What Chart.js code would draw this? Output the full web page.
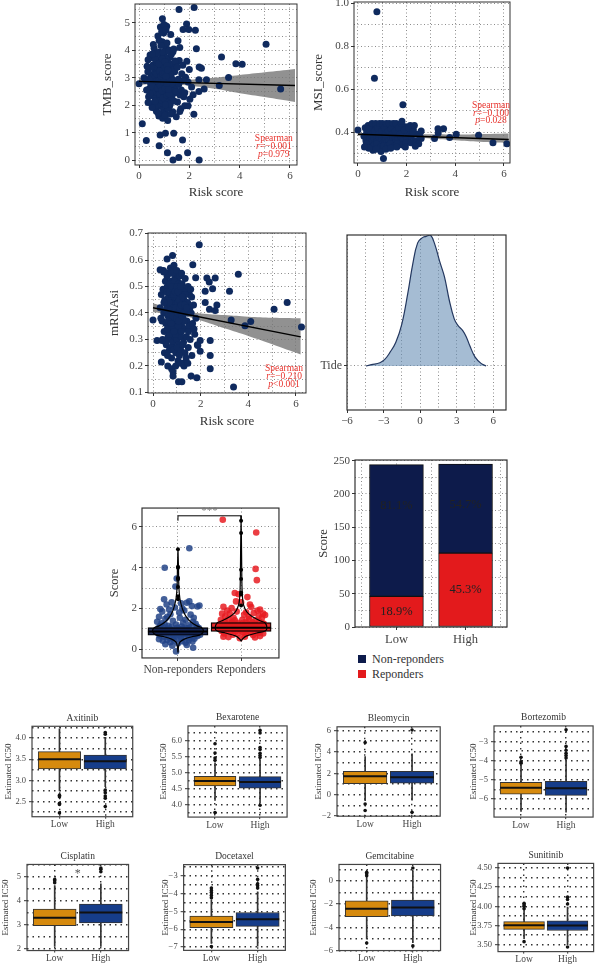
<!DOCTYPE html>
<html>
<head>
<meta charset="utf-8">
<script src="https://cdn.jsdelivr.net/npm/chart.js@4.4.1/dist/chart.umd.min.js"></script>
<style>
  html, body { margin: 0; padding: 0; background: #fff; }
  body { position: relative; width: 616px; height: 974px; overflow: hidden; font-family: 'Liberation Serif', 'DejaVu Serif', serif; }
  canvas { position: absolute; }
  .legend { position: absolute; left: 358px; top: 652px; font-size: 12px; color: #333; line-height: 15px; }
  .legend .sw { display: inline-block; width: 8px; height: 8px; margin-right: 6px; }
</style>
</head>
<body>
<div class="legend">
  <div><span class="sw" style="background:#0d1b4b"></span>Non-reponders</div>
  <div><span class="sw" style="background:#e31a1c"></span>Reponders</div>
</div>
<script>
// ---- risk score vs TMB ----
const tmbPoints = [
  [0.42,2.61],[0.47,3.12],[0.51,2.05],[0.53,2.88],[0.56,3.47],[0.58,2.34],[0.61,1.92],[0.62,2.72],[0.64,3.21],[0.66,3.86],
  [0.67,2.48],[0.69,1.78],[0.71,2.95],[0.72,3.58],[0.73,2.17],[0.75,4.52],[0.76,2.63],[0.77,3.33],[0.79,1.61],[0.8,2.83],
  [0.81,3.94],[0.82,2.29],[0.83,3.12],[0.85,4.85],[0.86,2.51],[0.87,1.95],[0.88,3.71],[0.89,2.76],[0.9,3.27],[0.91,2.08],
  [0.92,4.31],[0.93,2.92],[0.94,1.52],[0.95,3.48],[0.96,2.41],[0.97,3.02],[0.98,4.63],[0.99,2.66],[1.0,1.85],[1.01,3.81],
  [1.02,2.23],[1.03,3.16],[1.04,2.87],[1.05,4.12],[1.06,2.55],[1.07,1.68],[1.08,3.39],[1.09,2.97],[1.1,4.88],[1.11,2.31],
  [1.12,3.62],[1.13,2.74],[1.14,1.44],[1.15,3.09],[1.16,2.46],[1.17,4.02],[1.18,2.18],[1.19,3.31],[1.2,2.81],[1.22,1.98],
  [1.23,3.75],[1.25,2.59],[1.26,4.58],[1.28,3.04],[1.3,2.27],[1.32,3.48],[1.34,1.76],[1.36,2.91],[1.38,4.05],[1.4,2.44],
  [1.42,3.22],[1.45,2.68],[1.48,1.58],[1.5,3.56],[1.53,2.12],[1.56,2.95],[1.6,3.63],[1.63,2.37],[1.66,1.87],[1.7,3.15],
  [0.5,3.74],[0.55,2.52],[0.6,4.08],[0.63,2.98],[0.68,3.41],[0.72,2.02],[0.74,3.89],[0.78,2.61],[0.8,4.36],[0.84,3.05],
  [0.86,2.19],[0.9,4.68],[0.92,1.71],[0.95,2.58],[0.97,3.93],[1.0,3.37],[1.02,2.44],[1.04,1.63],[1.06,3.71],[1.08,2.12],
  [1.11,4.27],[1.13,3.18],[1.16,1.89],[1.19,2.65],[1.21,3.52],[1.24,2.05],[1.27,2.98],[1.29,3.87],[1.33,2.53],[1.37,3.28],
  [0.38,2.31],[0.44,3.83],[0.46,2.79],[0.52,1.92],[0.57,4.21],[0.59,3.36],[0.63,2.14],[0.65,3.67],[0.7,2.88],[0.76,1.72],
  [0.79,3.51],[0.83,2.41],[0.87,4.18],[0.89,2.96],[0.93,3.69],[0.96,2.27],[0.99,4.94],[1.01,2.71],[1.03,3.58],[1.05,2.02],
  [1.07,4.74],[1.09,2.38],[1.12,3.44],[1.15,2.86],[1.18,3.98],[1.2,2.42],[1.23,3.13],[1.26,1.68],[1.31,2.78],[1.35,3.95],
  [1.39,2.15],[1.43,3.61],[1.47,2.49],[1.52,3.38],[1.58,2.76],[1.62,4.1],[1.68,2.55],[1.74,3.46],[1.78,2.31],[1.85,3.02],
  [0.35,3.22],[0.4,2.95],[0.43,2.42],[0.48,3.38],[0.54,2.68],[0.69,3.15],[0.73,2.63],[0.77,2.87],[0.81,3.25],[0.85,2.71],
  [0.88,3.06],[0.91,2.53],[0.94,3.14],[0.98,2.84],[1.01,3.12],[1.04,2.62],[1.07,3.06],[1.1,2.79],[1.14,3.28],[1.17,2.57],
  [0.25,2.9],[0.3,2.55],[0.32,3.42],[0.36,2.1],[1.9,3.6],[1.95,2.85],[2.0,3.3],[1.75,2.9],[1.82,2.45],[1.55,4.35],
  [1.59,5.49],[2.19,5.56],[0.93,5.15],[1.89,4.96],[1.75,4.76],[1.98,4.76],[2.24,4.73],[5.05,4.22],[2.28,4.06],[3.28,3.76],
  [3.85,3.51],[4.1,3.49],[2.39,3.39],[2.48,3.35],[3.56,3.01],[2.38,2.93],[2.68,2.93],[3.19,2.72],[5.63,2.59],[2.09,2.66],
  [2.59,2.59],[2.38,2.5],[2.15,2.38],[2.02,2.22],[1.82,1.98],[1.95,1.98],[2.18,1.67],[1.62,1.77],[0.13,1.32],[0.29,0.71],
  [0.8,0.52],[0.84,0.91],[1.05,0.98],[1.38,0.98],[1.73,0.73],[1.13,0.27],[1.35,0.0],[1.58,0.09],[1.93,0.27],[2.39,0.0],
  [0.0,2.78],[0.2,3.0],[0.36,3.66],[0.53,3.87]
];
const tmbFit = [[0, 2.87], [6.2, 2.72]];
const tmbBandX = [0, 1, 2, 3, 4, 5, 6.2];
const tmbBandHi = [3.0, 2.92, 2.93, 3.0, 3.1, 3.2, 3.32];
const tmbBandLo = [2.74, 2.78, 2.71, 2.6, 2.44, 2.3, 2.12];

// ---- risk score vs MSI ----
const msiPoints = [
  [0.25,0.38],[0.3,0.42],[0.33,0.36],[0.36,0.4],[0.4,0.35],[0.42,0.43],[0.45,0.39],[0.48,0.37],[0.5,0.41],[0.52,0.345],
  [0.55,0.425],[0.57,0.38],[0.6,0.36],[0.62,0.4],[0.65,0.435],[0.67,0.37],[0.7,0.39],[0.72,0.35],[0.74,0.415],[0.76,0.38],
  [0.78,0.43],[0.8,0.36],[0.82,0.4],[0.84,0.34],[0.86,0.42],[0.88,0.375],[0.9,0.395],[0.92,0.355],[0.94,0.435],[0.96,0.385],
  [0.98,0.365],[1.0,0.41],[1.02,0.345],[1.04,0.425],[1.06,0.38],[1.08,0.4],[1.1,0.36],[1.12,0.43],[1.14,0.37],[1.16,0.39],
  [1.18,0.35],[1.2,0.415],[1.22,0.38],[1.24,0.43],[1.26,0.36],[1.28,0.4],[1.3,0.34],[1.32,0.42],[1.34,0.375],[1.36,0.395],
  [1.38,0.355],[1.4,0.435],[1.42,0.385],[1.44,0.365],[1.46,0.41],[1.48,0.345],[1.5,0.425],[1.52,0.38],[1.55,0.4],[1.58,0.36],
  [1.6,0.43],[1.63,0.37],[1.66,0.39],[1.7,0.35],[1.73,0.415],[1.76,0.38],[1.8,0.42],[1.84,0.36],[1.88,0.4],[1.92,0.34],
  [1.96,0.425],[2.0,0.37],[2.05,0.395],[2.1,0.355],[2.15,0.43],[2.2,0.38],[2.28,0.41],[2.35,0.36],[2.45,0.39],[2.6,0.37],
  [0.35,0.345],[0.44,0.415],[0.53,0.39],[0.58,0.44],[0.63,0.335],[0.68,0.405],[0.73,0.44],[0.77,0.345],[0.81,0.42],[0.85,0.39],
  [0.89,0.44],[0.93,0.33],[0.97,0.405],[1.01,0.44],[1.05,0.335],[1.09,0.42],[1.13,0.39],[1.17,0.44],[1.21,0.335],[1.25,0.405],
  [1.29,0.44],[1.33,0.345],[1.37,0.415],[1.41,0.39],[1.45,0.44],[1.49,0.335],[1.53,0.405],[1.57,0.44],[1.62,0.345],[1.67,0.42],
  [1.72,0.39],[1.78,0.44],[1.83,0.34],[1.9,0.41],[1.98,0.35],[2.08,0.42],[2.18,0.35],[2.25,0.4],[2.32,0.43],[2.4,0.35],
  [0.62,0.315],[0.95,0.31],[1.15,0.32],[0.75,0.32],[1.35,0.325],[0.45,0.325],[1.6,0.33],[1.95,0.33],[2.5,0.345],[2.55,0.38],
  [0.78,0.96],[0.68,0.65],[1.85,0.527],[1.81,0.45],[0.0,0.41],[3.29,0.415],[3.52,0.415],[3.15,0.37],[3.77,0.375],[4.04,0.39],
  [4.96,0.385],[5.55,0.35],[6.12,0.345],[1.05,0.277],[2.6,0.405],[2.36,0.334],[0.27,0.33],[3.3,0.395]
];
const msiFit = [[0, 0.39], [6.2, 0.365]];
const msiBandX = [0, 1, 2, 3, 4, 5, 6.2];
const msiBandHi = [0.397, 0.391, 0.39, 0.39, 0.389, 0.39, 0.393];
const msiBandLo = [0.383, 0.385, 0.378, 0.37, 0.362, 0.355, 0.349];

// ---- risk score vs mRNAsi ----
const mrnaPoints = [
  [0.3,0.42],[0.35,0.47],[0.38,0.37],[0.42,0.49],[0.45,0.4],[0.47,0.33],[0.5,0.45],[0.52,0.52],[0.54,0.36],[0.56,0.28],
  [0.58,0.43],[0.6,0.5],[0.62,0.39],[0.63,0.31],[0.65,0.46],[0.66,0.55],[0.68,0.35],[0.69,0.26],[0.7,0.42],[0.71,0.49],
  [0.72,0.38],[0.73,0.57],[0.74,0.3],[0.75,0.45],[0.76,0.52],[0.77,0.34],[0.78,0.23],[0.79,0.41],[0.8,0.48],[0.81,0.37],
  [0.82,0.56],[0.83,0.29],[0.84,0.44],[0.85,0.51],[0.86,0.33],[0.87,0.4],[0.88,0.58],[0.89,0.27],[0.9,0.46],[0.91,0.36],
  [0.92,0.53],[0.93,0.31],[0.94,0.43],[0.95,0.49],[0.96,0.25],[0.97,0.39],[0.98,0.55],[0.99,0.34],[1.0,0.47],[1.01,0.3],
  [1.02,0.42],[1.03,0.52],[1.04,0.37],[1.05,0.22],[1.06,0.45],[1.07,0.33],[1.08,0.5],[1.09,0.28],[1.1,0.41],[1.12,0.54],
  [1.13,0.36],[1.14,0.46],[1.16,0.26],[1.17,0.4],[1.18,0.31],[1.2,0.48],[1.21,0.35],[1.23,0.43],[1.24,0.21],[1.26,0.38],
  [1.28,0.29],[1.3,0.45],[1.32,0.34],[1.34,0.25],[1.36,0.41],[1.38,0.49],[1.4,0.31],[1.42,0.37],[1.45,0.44],[1.48,0.27],
  [1.5,0.35],[1.53,0.47],[1.56,0.3],[1.6,0.4],[1.63,0.24],[1.66,0.36],[1.7,0.43],[1.75,0.32],[1.8,0.38],[1.86,0.28],
  [0.4,0.3],[0.44,0.56],[0.48,0.25],[0.55,0.41],[0.59,0.54],[0.61,0.24],[0.64,0.37],[0.67,0.44],[0.7,0.32],[0.72,0.51],
  [0.75,0.27],[0.77,0.47],[0.8,0.55],[0.82,0.35],[0.85,0.42],[0.87,0.26],[0.9,0.52],[0.92,0.38],[0.95,0.32],[0.97,0.46],
  [1.0,0.56],[1.02,0.27],[1.04,0.44],[1.06,0.35],[1.09,0.51],[1.11,0.24],[1.14,0.39],[1.17,0.47],[1.19,0.33],[1.22,0.51],
  [1.25,0.28],[1.27,0.43],[1.31,0.37],[1.35,0.47],[1.39,0.23],[1.44,0.4],[1.49,0.33],[1.55,0.42],[1.62,0.46],[1.72,0.34],
  [0.33,0.38],[0.46,0.44],[0.53,0.29],[0.57,0.48],[0.6,0.34],[0.66,0.4],[0.69,0.48],[0.73,0.41],[0.76,0.36],[0.79,0.5],
  [0.83,0.39],[0.86,0.47],[0.88,0.33],[0.91,0.41],[0.93,0.48],[0.96,0.42],[0.99,0.38],[1.01,0.5],[1.03,0.4],[1.05,0.48],
  [1.08,0.37],[1.1,0.45],[1.13,0.42],[1.15,0.5],[1.18,0.43],[1.21,0.39],[1.24,0.46],[1.29,0.4],[1.33,0.43],[1.41,0.42],
  [0.62,0.2],[0.78,0.19],[0.95,0.2],[1.15,0.21],[1.3,0.2],[1.46,0.21],[1.2,0.55],[1.35,0.53],[1.47,0.5],[1.58,0.49],
  [1.94,0.658],[0.82,0.617],[0.59,0.604],[1.67,0.582],[3.58,0.546],[1.79,0.533],[2.26,0.532],[2.61,0.532],[2.36,0.517],[2.5,0.492],
  [3.21,0.482],[2.19,0.482],[5.63,0.44],[2.19,0.44],[2.68,0.43],[5.08,0.414],[2.37,0.414],[2.61,0.409],[0.0,0.374],[3.28,0.374],
  [4.1,0.368],[3.86,0.352],[6.23,0.347],[0.17,0.296],[0.38,0.296],[1.98,0.296],[2.4,0.296],[0.35,0.215],[2.4,0.24],[2.4,0.19],
  [0.84,0.178],[0.84,0.162],[1.07,0.14],[1.21,0.14],[1.6,0.162],[1.84,0.156],[3.38,0.121],[1.88,0.277],[1.98,0.256],[0.3,0.563],
  [0.45,0.555]
];
const mrnaFit = [[0, 0.42], [6.2, 0.31]];
const mrnaBandX = [0, 1, 2, 3, 4, 5, 6.2];
const mrnaBandHi = [0.437, 0.41, 0.398, 0.392, 0.386, 0.382, 0.38];
const mrnaBandLo = [0.403, 0.394, 0.372, 0.342, 0.313, 0.282, 0.243];

// ---- Tide score density ----
const tideX = [-4.45, -4.0, -3.3, -2.9, -2.5, -2.0, -1.5, -1.0, -0.6, -0.2, 0.2, 0.5, 0.85, 1.2, 1.6, 2.0, 2.4, 2.8, 3.1, 3.5, 3.8, 4.1, 4.5, 5.0, 5.42];
const tideDensity = [0, 0.01, 0.025, 0.05, 0.1, 0.18, 0.32, 0.56, 0.78, 0.94, 0.98, 0.99, 1.0, 0.93, 0.8, 0.68, 0.5, 0.36, 0.31, 0.27, 0.22, 0.15, 0.07, 0.02, 0];

// ---- score by response group ----
const respGroups = ['Non-reponders', 'Reponders'];
const jitterNR = [
  [0.79,4.0],[1.18,4.95],[0.98,3.47],[0.96,3.08],[0.78,2.45],[0.86,1.95],[0.72,1.98],[1.22,2.12],[1.31,2.1],[0.9,2.3],
  [1.05,2.25],[1.14,2.28],[0.82,2.2],[0.95,2.05],[1.1,1.9],[0.7,1.6],[0.88,1.72],[1.02,1.8],[1.2,1.7],[1.28,1.25],
  [0.67,1.35],[0.74,1.28],[0.8,1.5],[0.85,1.15],[0.92,1.4],[0.97,1.22],[1.03,1.55],[1.08,1.3],[1.12,1.45],[1.17,1.18],
  [1.24,1.35],[1.3,1.12],[0.69,1.05],[0.73,0.95],[0.77,1.08],[0.81,0.88],[0.84,1.02],[0.87,0.78],[0.9,0.95],[0.93,0.7],
  [0.96,0.9],[0.99,1.06],[1.01,0.82],[1.04,0.98],[1.07,0.75],[1.1,0.92],[1.13,1.04],[1.16,0.8],[1.19,0.96],[1.22,0.72],
  [1.25,0.88],[1.29,1.0],[1.32,0.82],[0.68,0.8],[0.71,0.68],[0.75,0.85],[0.78,0.62],[0.82,0.75],[0.86,0.58],[0.89,0.84],
  [0.92,0.55],[0.95,0.72],[0.98,0.6],[1.02,0.68],[1.05,0.52],[1.08,0.86],[1.11,0.62],[1.15,0.7],[1.18,0.55],[1.21,0.84],
  [1.24,0.6],[1.27,0.74],[1.31,0.65],[0.7,0.5],[0.76,0.42],[0.83,0.46],[0.88,0.35],[0.94,0.44],[1.0,0.3],[1.06,0.4],
  [1.12,0.33],[1.17,0.45],[1.23,0.38],[1.26,0.52],[0.97,-0.1],[1.24,0.08],[0.8,0.25],[0.91,0.18],[1.14,0.22],[1.34,0.9],
  [0.66,0.95],[0.72,1.15],[0.79,1.22],[0.84,0.98],[0.9,1.1],[0.94,0.86],[1.0,0.95],[1.06,1.12],[1.09,1.0],[1.15,0.93],
  [1.2,1.08],[1.27,0.95],[1.33,1.05],[0.74,0.78],[0.8,0.92],[0.87,1.0],[0.93,0.8],[0.99,0.76],[1.04,0.88],[1.1,0.78],
  [1.16,0.9],[1.22,0.78],[1.29,0.86],[1.35,0.72],[1.34,2.15],[1.25,1.55],[0.75,1.85],[1.18,2.35],[0.83,1.6],[1.07,2.0]
];
const jitterR = [
  [1.71,6.35],[2.24,5.72],[2.23,3.94],[2.25,3.39],[1.9,2.76],[1.96,2.7],[2.1,2.56],[1.72,2.08],[2.16,2.07],[2.0,2.3],
  [1.75,1.62],[1.82,1.75],[1.88,1.55],[1.93,1.85],[2.05,1.7],[2.12,1.6],[2.2,1.78],[2.28,1.65],[2.33,1.55],[1.68,1.45],
  [1.74,1.38],[1.8,1.48],[1.85,1.32],[1.9,1.42],[1.95,1.3],[2.02,1.45],[2.07,1.35],[2.13,1.48],[2.18,1.32],[2.23,1.42],
  [2.29,1.36],[2.34,1.28],[1.66,1.2],[1.7,1.1],[1.76,1.25],[1.8,1.05],[1.84,1.18],[1.88,0.98],[1.92,1.12],[1.96,1.22],
  [2.0,1.0],[2.04,1.15],[2.08,0.95],[2.12,1.08],[2.16,1.2],[2.2,1.02],[2.24,1.14],[2.28,0.96],[2.32,1.1],[2.36,1.25],
  [1.69,0.9],[1.73,0.78],[1.78,0.92],[1.83,0.85],[1.87,0.72],[1.91,0.88],[1.95,0.8],[1.99,0.92],[2.03,0.84],[2.07,0.75],
  [2.11,0.9],[2.15,0.82],[2.19,0.7],[2.23,0.88],[2.27,0.8],[2.31,0.9],[2.35,0.78],[1.72,0.62],[1.8,0.6],[2.22,0.58],
  [2.3,0.65],[1.98,0.55],[2.06,0.62],[1.86,1.3],[1.94,1.05],[2.02,1.25],[2.1,1.15],[2.18,0.98],[2.26,1.05],[1.77,1.0],
  [1.83,1.12],[1.89,1.22],[2.09,1.28],[2.14,1.02],[2.21,1.25],[2.33,1.15],[1.67,1.05],[1.75,1.15],[1.97,1.15],[2.01,0.98],
  [1.85,2.02],[2.3,1.95],[2.35,1.75],[2.26,1.9],[1.78,1.9],[2.14,2.2],[1.92,2.35],[2.08,1.82],[1.7,1.75],[2.38,1.68]
];
// box stats [Q1, median, Q3] and boxplot outliers
const respBoxNR = [0.69, 0.87, 1.07];
const respBoxR = [0.88, 1.06, 1.31];
const respOutNR = [2.45, 2.6, 3.05, 3.45, 3.5, 4.0, 4.05, 4.9];
const respOutR = [2.15, 2.7, 2.78, 3.45, 3.9, 5.7, 6.3];
// violin half widths at score levels
const violinY_NR = [-0.15, 0.15, 0.35, 0.5, 0.62, 0.7, 0.85, 1.05, 1.15, 1.35, 1.6, 1.9, 2.2, 2.5, 3.0, 4.0, 4.95];
const violinW_NR = [0, 0.01, 0.03, 0.1, 0.22, 0.34, 0.4, 0.38, 0.3, 0.2, 0.13, 0.08, 0.05, 0.03, 0.015, 0.008, 0];
const violinY_R = [0.4, 0.5, 0.65, 0.8, 0.9, 1.05, 1.3, 1.4, 1.6, 1.8, 2.0, 2.3, 3.0, 4.0, 5.5, 6.35];
const violinW_R = [0, 0.02, 0.08, 0.25, 0.38, 0.41, 0.38, 0.3, 0.18, 0.1, 0.06, 0.03, 0.015, 0.01, 0.005, 0];
const sigBracket = [[1, 6.3], [1, 6.54], [2, 6.54], [2, 6.3]];

// ---- responders per risk group ----
const riskGroups = ['Low', 'High'];
const responders = [46, 111];
const nonResponders = [198, 134];

// ---- estimated IC50 by risk group ----
const icDrugs = ['Axitinib', 'Bexarotene', 'Bleomycin', 'Bortezomib', 'Cisplatin', 'Docetaxel', 'Gemcitabine', 'Sunitinib'];
// [lower whisker, Q1, median, Q3, upper whisker]
const icLow = [
  [2.75, 3.27, 3.5, 3.68, 4.22],
  [4.12, 4.58, 4.73, 4.88, 5.3],
  [-0.55, 1.03, 1.72, 2.19, 3.55],
  [-6.65, -5.75, -5.42, -5.14, -4.25],
  [2.1, 2.96, 3.29, 3.65, 4.62],
  [-6.8, -5.92, -5.6, -5.26, -4.35],
  [-5.0, -3.09, -2.4, -1.73, 0.3],
  [3.58, 3.7, 3.754, 3.8, 3.95]
];
const icHigh = [
  [2.85, 3.27, 3.45, 3.6, 4.02],
  [4.05, 4.51, 4.7, 4.87, 5.4],
  [-0.5, 1.08, 1.64, 2.19, 3.8],
  [-6.7, -5.82, -5.45, -5.08, -4.0],
  [2.1, 3.08, 3.51, 3.86, 4.7],
  [-6.95, -5.84, -5.44, -5.06, -3.9],
  [-5.3, -3.01, -2.3, -1.65, 0.85],
  [3.5, 3.685, 3.75, 3.81, 3.99]
];
const icOutLow = [
  [2.65, 2.61, 2.46, 2.43, 2.23],
  [5.9, 5.61, 5.45, 5.38, 3.74],
  [4.86, -0.86, -1.47],
  [-3.83, -4.07, -4.14],
  [4.88, 4.82, 4.74],
  [-3.69, -3.82, -3.94, -4.1, -4.23, -6.97],
  [0.74, 0.62, 0.44, -5.36],
  [4.04, 4.02, 4.0, 3.97, 3.54]
];
const icOutHigh = [
  [4.13, 4.09, 2.77, 2.71, 2.63, 2.58, 2.38],
  [6.32, 6.24, 5.78, 5.72, 5.6, 5.53, 5.47, 3.97],
  [6.03, -1.64],
  [-2.39, -3.26, -3.46, -3.62, -3.74, -3.86],
  [5.35, 5.3, 5.2],
  [-2.56, -3.2, -3.45, -3.56, -3.69],
  [1.11, -5.6],
  [4.5, 4.12, 4.09, 4.03, 3.47]
];
const icMin = [2.14, 3.6, -2.0, -6.95, 1.93, -7.19, -6.0, 3.41];
const icMax = [4.28, 6.46, 6.33, -2.19, 5.5, -2.37, 1.41, 4.56];
const icMajor = [0.5, 0.5, 2, 1, 1, 1, 2, 0.25];
const icMinor = [0.25, 0.25, 1, 0.5, 0.5, 0.5, 1, 0.125];
const icDigits = [1, 1, 0, 0, 0, 0, 0, 2];

// ---- shared settings ----
const SERIF = "'Liberation Serif', 'DejaVu Serif', serif";
const NAVY = '#0f2a5e';
const RED = '#e31a1c';
const ORANGE = '#d68a0e';
const BLUE = '#163d8a';
const NOTE_RED = '#e8322c';

Chart.defaults.font.family = SERIF;
Chart.defaults.color = '#444';
Chart.defaults.animation = false;
Chart.defaults.responsive = false;
Chart.defaults.maintainAspectRatio = false;
Chart.defaults.events = [];
Chart.defaults.plugins.legend.display = false;
Chart.defaults.plugins.tooltip.enabled = false;

function isMult(v, m) {
  return Math.abs(v / m - Math.round(v / m)) < 1e-6;
}

function fmt(v, digits) {
  v = Math.round(v * 1e6) / 1e6;
  if (Math.abs(v) < 1e-9) v = 0;
  return (v < 0 ? '\u2212' : '') + Math.abs(v).toFixed(digits);
}

// linear axis with labelled major ticks and dotted grid at every step
function linAxis(o) {
  const hasLabel = v => o.labels ? o.labels[v] !== undefined : isMult(v, o.major);
  return {
    type: 'linear', min: o.min, max: o.max, offset: false,
    afterBuildTicks: o.ticks ? (s => { s.ticks = o.ticks.map(v => ({ value: v })); }) : undefined,
    ticks: {
      stepSize: o.step, autoSkip: false, includeBounds: false, maxRotation: 0,
      padding: o.pad === undefined ? 2 : o.pad, color: '#444', font: { family: SERIF, size: o.size || 11 },
      callback: v => hasLabel(v) ? (o.labels ? o.labels[v] : fmt(v, o.digits)) : ''
    },
    grid: {
      offset: false, color: o.gridColor || '#8c8c8c', lineWidth: o.gridWidth || 1,
      tickLength: o.tickLen || 3, tickWidth: 1,
      tickColor: ctx => (ctx.tick && hasLabel(ctx.tick.value)) ? '#333' : 'rgba(0,0,0,0)'
    },
    border: { display: false, dash: o.dash || [1, 2.5] },
    title: o.title
      ? { display: true, text: o.title, padding: 0, color: '#333', font: { family: SERIF, size: o.titleSize || 13 } }
      : { display: false }
  };
}

function framePlugin(color, width) {
  return {
    id: 'frame',
    afterDatasetsDraw(chart) {
      const { ctx, chartArea: a } = chart;
      ctx.save();
      ctx.strokeStyle = color;
      ctx.lineWidth = width;
      ctx.strokeRect(a.left, a.top, a.right - a.left, a.bottom - a.top);
      ctx.restore();
    }
  };
}

function drawRuns(ctx, runs, x, y, size, color, align) {
  const fonts = runs.map(r => (r[1] ? 'italic ' : '') + size + 'px ' + SERIF);
  let total = 0;
  runs.forEach((r, i) => { ctx.font = fonts[i]; total += ctx.measureText(r[0]).width; });
  let cx = align === 'center' ? x - total / 2 : (align === 'right' ? x - total : x);
  ctx.fillStyle = color;
  ctx.textBaseline = 'middle';
  ctx.textAlign = 'left';
  runs.forEach((r, i) => { ctx.font = fonts[i]; ctx.fillText(r[0], cx, y); cx += ctx.measureText(r[0]).width; });
}

// text placed at data coordinates
function notesPlugin(items) {
  return {
    id: 'notes',
    afterDatasetsDraw(chart) {
      const ctx = chart.ctx;
      ctx.save();
      items.forEach(it => {
        const x = chart.scales.x.getPixelForValue(it.x);
        const y = chart.scales.y.getPixelForValue(it.y);
        drawRuns(ctx, it.runs, x, y, it.size, it.color, it.align || 'center');
      });
      ctx.restore();
    }
  };
}

function titlePlugin(text) {
  return {
    id: 'ptitle',
    afterDraw(chart) {
      const { ctx, chartArea: a } = chart;
      ctx.save();
      ctx.font = '9.5px ' + SERIF;
      ctx.fillStyle = '#333';
      ctx.textAlign = 'center';
      ctx.textBaseline = 'middle';
      ctx.fillText(text, (a.left + a.right) / 2, a.top - 8);
      ctx.restore();
    }
  };
}

// canvas placed so that the plot area lands on the frame rectangle
function makePanel(frame, box, config) {
  const c = document.createElement('canvas');
  const w = Math.round(box.right - box.left), h = Math.round(box.bottom - box.top);
  c.width = w; c.height = h;
  c.style.left = box.left + 'px'; c.style.top = box.top + 'px';
  c.style.width = w + 'px'; c.style.height = h + 'px';
  document.body.appendChild(c);
  config.options.layout = { padding: { top: frame.t - box.top, right: box.right - frame.r, left: 0, bottom: 0 } };
  config.options.scales.x.afterFit = s => { s.height = box.bottom - frame.b; };
  config.options.scales.y.afterFit = s => { s.width = frame.l - box.left; };
  return new Chart(c, config);
}

function xy(pairs) {
  return pairs.map(p => ({ x: p[0], y: p[1] }));
}

function scatterPanel(frame, box, pts, fit, bandX, bandHi, bandLo, xAxis, yAxis, notes) {
  return makePanel(frame, box, {
    type: 'scatter',
    data: {
      datasets: [
        { type: 'line', data: bandX.map((x, i) => ({ x, y: bandHi[i] })), borderWidth: 0, pointRadius: 0, fill: false, tension: 0.4, order: 3 },
        { type: 'line', data: bandX.map((x, i) => ({ x, y: bandLo[i] })), borderWidth: 0, pointRadius: 0, fill: '-1',
          backgroundColor: 'rgba(118,118,118,0.8)', tension: 0.4, order: 3 },
        { data: xy(pts), backgroundColor: NAVY, borderWidth: 0, pointRadius: 3.5, order: 2 },
        { type: 'line', data: xy(fit), borderColor: '#000', borderWidth: 1.4, pointRadius: 0, fill: false, order: 1 }
      ]
    },
    options: { scales: { x: xAxis, y: yAxis } },
    plugins: [framePlugin('#333', 1), notesPlugin(notes)]
  });
}

function spearman(x, y1, y2, y3, rText, pText) {
  const s = 9.5;
  return [
    { x, y: y1, size: s, color: NOTE_RED, runs: [['Spearman', false]] },
    { x, y: y2, size: s, color: NOTE_RED, runs: [['r', true], ['=' + rText, false]] },
    { x, y: y3, size: s, color: NOTE_RED, runs: [['p', true], [pText, false]] }
  ];
}

// ---- TMB ----
scatterPanel({ l: 135, t: 4, r: 297, b: 165 }, { left: 100, top: -8, right: 305, bottom: 200 },
  tmbPoints, tmbFit, tmbBandX, tmbBandHi, tmbBandLo,
  linAxis({ min: -0.16, max: 6.28, step: 1, major: 2, digits: 0, title: 'Risk score' }),
  linAxis({ min: -0.18, max: 5.69, step: 0.5, major: 1, digits: 0, title: 'TMB_score' }),
  spearman(5.36, 0.79, 0.49, 0.2, '\u22120.001', '=0.979'));

// ---- MSI ----
scatterPanel({ l: 354, t: 2, r: 510, b: 163 }, { left: 311, top: -10, right: 518, bottom: 200 },
  msiPoints, msiFit, msiBandX, msiBandHi, msiBandLo,
  linAxis({ min: -0.16, max: 6.25, step: 1, major: 2, digits: 0, title: 'Risk score' }),
  linAxis({ min: 0.256, max: 1.005, step: 0.1, major: 0.2, digits: 1, title: 'MSI_score' }),
  spearman(5.47, 0.522, 0.487, 0.453, '\u22120.100', '=0.028'));

// ---- mRNAsi ----
scatterPanel({ l: 148, t: 233, r: 306, b: 393 }, { left: 107, top: 221, right: 312, bottom: 429 },
  mrnaPoints, mrnaFit, mrnaBandX, mrnaBandHi, mrnaBandLo,
  linAxis({ min: -0.21, max: 6.42, step: 1, major: 2, digits: 0, title: 'Risk score' }),
  linAxis({ min: 0.098, max: 0.702, step: 0.05, major: 0.1, digits: 1, title: 'mRNAsi' }),
  spearman(5.5, 0.189, 0.159, 0.13, '\u22120.210', '<0.001'));

// ---- Tide density ----
makePanel({ l: 347, t: 235, r: 506, b: 410 }, { left: 312, top: 223, right: 514, bottom: 432 }, {
  type: 'line',
  data: {
    datasets: [{
      data: tideX.map((x, i) => ({ x, y: tideDensity[i] })),
      borderColor: '#23375f', borderWidth: 1.2, backgroundColor: 'rgba(100,140,180,0.58)',
      fill: { value: 0 }, pointRadius: 0, tension: 0.4
    }]
  },
  options: {
    scales: {
      x: linAxis({ min: -6, max: 7.05, step: 1.5, major: 3, digits: 0 }),
      y: linAxis({ min: -0.336, max: 1.0, ticks: [0], labels: { 0: 'Tide' }, size: 12 })
    }
  },
  plugins: [framePlugin('#333', 1.2)]
});

// ---- score violins ----
function violinOutline(c, ys, ws) {
  const right = ys.map((y, i) => ({ x: c + ws[i], y }));
  const left = ys.map((y, i) => ({ x: c - ws[i], y })).reverse();
  return right.concat(left);
}
{
  const frame = { l: 142, t: 488, r: 305, b: 663 };
  const bw = 0.8 * (frame.r - frame.l) / 2.17;
  makePanel(frame, { left: 107, top: 476, right: 311, bottom: 690 }, {
    type: 'bar',
    data: {
      datasets: [
        { type: 'scatter', data: xy(jitterNR), backgroundColor: 'rgba(35,68,135,0.85)', borderWidth: 0, pointRadius: 3.3, order: 6 },
        { type: 'scatter', data: xy(jitterR), backgroundColor: 'rgba(232,28,34,0.85)', borderWidth: 0, pointRadius: 3.3, order: 6 },
        { data: [{ x: 1, y: [respBoxNR[0], respBoxNR[2]] }, { x: 2, y: [respBoxR[0], respBoxR[2]] }],
          backgroundColor: ['rgba(18,32,78,0.9)', 'rgba(226,26,28,0.9)'], borderColor: '#000', borderWidth: 1.2,
          borderSkipped: false, barThickness: bw, grouped: false, order: 5 },
        { type: 'line', data: violinOutline(1, violinY_NR, violinW_NR), borderColor: '#000', borderWidth: 1.2, pointRadius: 0, fill: false, tension: 0.3, order: 4 },
        { type: 'line', data: violinOutline(2, violinY_R, violinW_R), borderColor: '#000', borderWidth: 1.2, pointRadius: 0, fill: false, tension: 0.3, order: 4 },
        { type: 'scatter', data: [{ x: 1, y: respBoxNR[1] }, { x: 2, y: respBoxR[1] }], pointStyle: 'line',
          pointRadius: bw / 2, borderColor: '#000', borderWidth: 2, order: 3 },
        { type: 'scatter', data: respOutNR.map(y => ({ x: 1, y })).concat(respOutR.map(y => ({ x: 2, y }))),
          backgroundColor: '#000', borderWidth: 0, pointRadius: 2, order: 2 },
        { type: 'line', data: xy(sigBracket), borderColor: '#000', borderWidth: 1, pointRadius: 0, fill: false, order: 1 }
      ]
    },
    options: {
      scales: {
        x: linAxis({ min: 0.43, max: 2.6, ticks: [1, 2], labels: { 1: respGroups[0], 2: respGroups[1] }, size: 11.5 }),
        y: linAxis({ min: -0.42, max: 6.92, step: 1, major: 2, digits: 0, title: 'Score', titleSize: 12.5 })
      }
    },
    plugins: [framePlugin('#333', 1.2), notesPlugin([{ x: 1.5, y: 6.76, size: 11, color: '#777', runs: [['***', false]] }])]
  });
}

// ---- stacked responders ----
{
  const frame = { l: 355, t: 460, r: 507, b: 627 };
  const bw = 0.78 * (frame.r - frame.l) / 2.2;
  const pctNotes = [];
  riskGroups.forEach((g, i) => {
    const total = responders[i] + nonResponders[i];
    pctNotes.push({ x: i + 1, y: responders[i] / 2, size: 12.5, color: '#222',
      runs: [[(100 * responders[i] / total).toFixed(1) + '%', false]] });
    pctNotes.push({ x: i + 1, y: total * 0.75, size: 12.5, color: '#222',
      runs: [[(100 * nonResponders[i] / total).toFixed(1) + '%', false]] });
  });
  makePanel(frame, { left: 316, top: 448, right: 514, bottom: 650 }, {
    type: 'bar',
    data: {
      datasets: [
        { label: 'Reponders', data: responders.map((v, i) => ({ x: i + 1, y: v })), backgroundColor: RED,
          borderColor: '#111', borderWidth: 1, borderSkipped: false, barThickness: bw },
        { label: 'Non-reponders', data: nonResponders.map((v, i) => ({ x: i + 1, y: v })), backgroundColor: '#0d1b4b',
          borderColor: '#111', borderWidth: 1, borderSkipped: false, barThickness: bw }
      ]
    },
    options: {
      scales: {
        x: Object.assign(linAxis({ min: 0.4, max: 2.6, step: 0.5, labels: { 1: riskGroups[0], 2: riskGroups[1] }, size: 12.5 }), { stacked: true }),
        y: Object.assign(linAxis({ min: 0, max: 251, step: 25, major: 50, digits: 0, title: 'Score', titleSize: 12.5 }), { stacked: true })
      }
    },
    plugins: [framePlugin('#333', 1.2), notesPlugin(pctNotes)]
  });
}

// ---- IC50 box plots ----
const boxFrames = [
  { l: 32, r: 152, t: 723, b: 823, yt: 8 },
  { l: 188, r: 306, t: 723, b: 823, yt: 163 },
  { l: 337, r: 460, t: 723, b: 823, yt: 318 },
  { l: 494, r: 612, t: 723, b: 823, yt: 473 },
  { l: 27, r: 148, t: 861, b: 961, yt: 5 },
  { l: 183, r: 305, t: 861, b: 961, yt: 165 },
  { l: 339, r: 460, t: 861, b: 961, yt: 313 },
  { l: 498, r: 613, t: 861, b: 961, yt: 473 }
];

icDrugs.forEach((drug, i) => {
  const f = boxFrames[i];
  const box = { left: Math.max(0, Math.round(f.yt - 5.4)), top: f.t - 20, right: Math.min(616, f.r + 4), bottom: i < 4 ? 840 : 974 };
  const bw = 0.78 * (f.r - f.l) / 2.2;
  const stats = [icLow[i], icHigh[i]];
  const extra = [];
  if (drug === 'Cisplatin') extra.push({ x: 1.5, y: 5.13, size: 12, color: '#555', runs: [['*', false]] });
  makePanel(f, box, {
    type: 'bar',
    data: {
      datasets: [
        { data: stats.map((s, k) => ({ x: k + 1, y: [s[0], s[4]] })), backgroundColor: '#333', borderWidth: 0,
          barThickness: 1, grouped: false, order: 4 },
        { data: stats.map((s, k) => ({ x: k + 1, y: [s[1], s[3]] })), backgroundColor: [ORANGE, BLUE],
          borderColor: '#333', borderWidth: 1, borderSkipped: false, barThickness: bw, grouped: false, order: 3 },
        { type: 'scatter', data: stats.map((s, k) => ({ x: k + 1, y: s[2] })), pointStyle: 'line',
          pointRadius: bw / 2, borderColor: '#111', borderWidth: 2, order: 2 },
        { type: 'scatter', data: icOutLow[i].map(y => ({ x: 1, y })).concat(icOutHigh[i].map(y => ({ x: 2, y }))),
          backgroundColor: '#111', borderWidth: 0, pointRadius: 1.8, order: 1 }
      ]
    },
    options: {
      scales: {
        x: linAxis({ min: 0.4, max: 2.6, ticks: [1, 2], labels: { 1: riskGroups[0], 2: riskGroups[1] }, size: 9.5,
          pad: 0.5, tickLen: 2, dash: [1.5, 4], gridColor: '#333', gridWidth: 1.4 }),
        y: linAxis({ min: icMin[i], max: icMax[i], step: icMinor[i], major: icMajor[i], digits: icDigits[i], size: 8.5,
          pad: 3, dash: [1.5, 4], gridColor: '#333', gridWidth: 1.4, title: 'Estimated IC50', titleSize: 9 })
      }
    },
    plugins: [framePlugin('#444', 1.2), titlePlugin(drug), notesPlugin(extra)]
  });
});
</script>
</body>
</html>
